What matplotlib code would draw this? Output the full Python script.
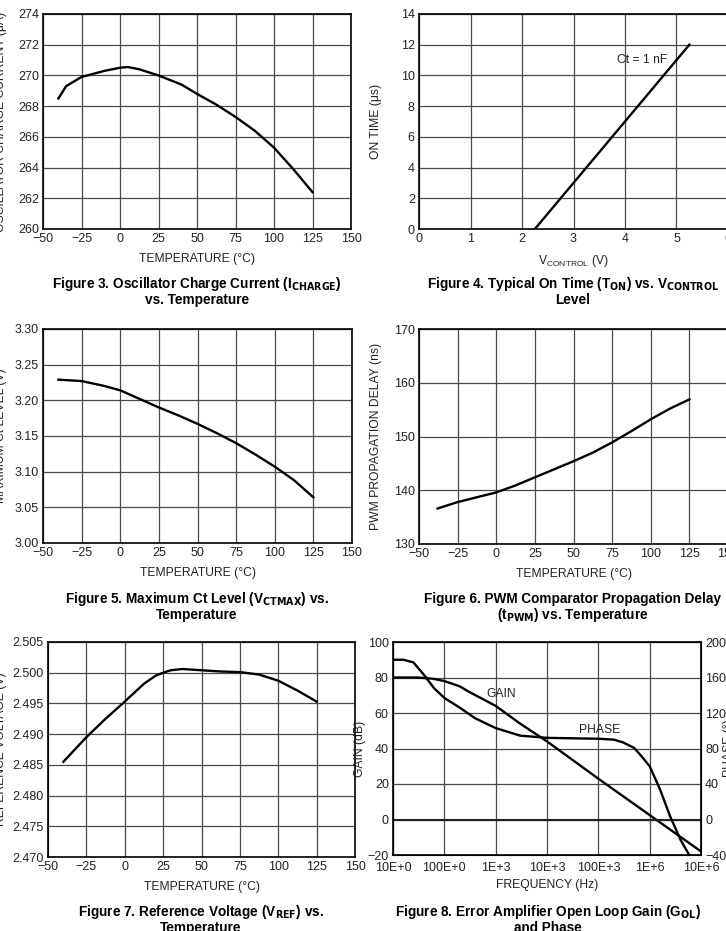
import matplotlib
matplotlib.use("Agg")
import matplotlib.pyplot as plt

plt.rcParams['font.family'] = ['Liberation Sans', 'DejaVu Sans']
plt.rcParams['mathtext.fontset'] = 'custom'
plt.rcParams['mathtext.rm'] = 'Liberation Sans'
plt.rcParams['mathtext.bf'] = 'Liberation Sans Narrow:bold'

# ---- data ----
temp3 = [-40, -35, -25, -10, 0, 5, 12.5, 25, 40, 50, 62.5, 75, 87.5, 100, 112.5, 125]
icharge = [268.5, 269.3, 269.9, 270.3, 270.5, 270.55, 270.4, 270.0, 269.4, 268.8,
           268.1, 267.3, 266.4, 265.3, 263.9, 262.4]

vcontrol = [2.25, 5.25]
ton = [0, 12]

temp5 = [-40, -25, -10, 0, 12.5, 25, 37.5, 50, 62.5, 75, 87.5, 100, 112.5, 125]
vctmax = [3.229, 3.227, 3.220, 3.214, 3.202, 3.190, 3.179, 3.167, 3.154, 3.140,
          3.124, 3.107, 3.088, 3.064]

temp6 = [-38, -25, -12.5, 0, 12.5, 25, 37.5, 50, 62.5, 75, 87.5, 100, 112.5, 125]
tpwm = [136.6, 137.8, 138.7, 139.6, 140.9, 142.4, 143.9, 145.4, 147.0, 148.9,
        151.0, 153.2, 155.2, 156.9]

temp7 = [-40, -25, -12.5, 0, 12.5, 20, 25, 30, 37.5, 50, 62.5, 75, 87.5, 100, 112.5, 125]
vref = [2.4855, 2.4895, 2.4925, 2.4953, 2.4982, 2.4995, 2.5000, 2.5004, 2.5006,
        2.5004, 2.5002, 2.5001, 2.4997, 2.4987, 2.4971, 2.4953]

gain_freq = [10, 30, 60, 100, 200, 300, 1e3, 3e3, 1e4, 1e5, 1e6, 1e7]
gain_db = [80, 80, 79.3, 78, 75, 72, 64, 54, 44, 23, 2.5, -18]
phase_freq = [10, 16, 25, 40, 63, 100, 200, 400, 1e3, 3e3, 1e4, 3e4, 1e5, 2e5,
              3e5, 5e5, 7e5, 1e6, 1.6e6, 2.5e6, 4e6, 5.9e6]
phase_deg = [180, 180, 177, 163, 148, 137, 126, 114, 103, 94.5, 92, 91.5, 91, 90,
             87, 80.6, 71, 60, 33.6, 3.6, -23, -40]

temp_ticks = [-50, -25, 0, 25, 50, 75, 100, 125, 150]
freq_ticks = [10, 100, 1e3, 1e4, 1e5, 1e6, 1e7]
freq_labels = ['10E+0', '100E+0', '1E+3', '10E+3', '100E+3', '1E+6', '10E+6']

W, H = 726, 931
fig = plt.figure(figsize=(W / 100, H / 100), dpi=100)
CAP = ['Liberation Sans Narrow', 'Liberation Sans', 'DejaVu Sans']
TXT = '#222222'


def panel(x0, y0, x1, y1):
    ax = fig.add_axes([x0 / W, 1 - y1 / H, (x1 - x0) / W, (y1 - y0) / H])
    ax.grid(True, color='#4a4a4a', lw=0.9)
    ax.set_axisbelow(True)
    ax.tick_params(length=0, labelsize=9, pad=3, colors=TXT)
    for s in ax.spines.values():
        s.set_linewidth(1.2)
    return ax


def labels(ax, x0, y0, x1, y1, xl, yl, ylx):
    ax.set_xlabel(xl, fontsize=8.7, color=TXT)
    ax.xaxis.set_label_coords(0.5, -(253 - 229) / 215)
    ax.set_ylabel(yl, fontsize=8.7, color=TXT)
    ax.yaxis.set_label_coords((ylx - x0) / (x1 - x0), 0.5)


def caption(cx, cy, l1, l2):
    fig.text(cx / W, 1 - cy / H, l1, ha='center', va='center', fontsize=9.8,
             fontweight='bold', family=CAP)
    fig.text(cx / W, 1 - (cy + 16) / H, l2, ha='center', va='center', fontsize=9.8,
             fontweight='bold', family=CAP)


# Figure 3
ax = panel(43, 14, 351, 229)
ax.plot(temp3, icharge, color='black', lw=1.7)
ax.set_xlim(-50, 150)
ax.set_ylim(260, 274)
ax.set_xticks(temp_ticks)
ax.set_yticks(range(260, 275, 2))
labels(ax, 43, 14, 351, 229, 'TEMPERATURE (°C)', 'OSCILLATOR CHARGE CURRENT (μA)', 7)
caption(197, 284, r'Figure 3. Oscillator Charge Current (I$_\mathbf{CHARGE}$)', 'vs. Temperature')

# Figure 4
ax = panel(419, 14, 728, 229)
ax.plot(vcontrol, ton, color='black', lw=1.7)
ax.set_xlim(0, 6)
ax.set_ylim(0, 14)
ax.set_xticks(range(0, 7))
ax.set_yticks(range(0, 15, 2))
ax.text(4.82, 11.0, 'Ct = 1 nF', ha='right', va='center', fontsize=8.7, color=TXT)
labels(ax, 419, 14, 728, 229, r'V$_{\mathrm{CONTROL}}$ (V)', 'ON TIME (μs)', 382)
caption(573, 284, r'Figure 4. Typical On Time (T$_\mathbf{ON}$) vs. V$_\mathbf{CONTROL}$', 'Level')

# Figure 5
ax = panel(43, 329, 352, 543)
ax.plot(temp5, vctmax, color='black', lw=1.7)
ax.set_xlim(-50, 150)
ax.set_ylim(3.00, 3.30)
ax.set_xticks(temp_ticks)
ax.set_yticks([3.00, 3.05, 3.10, 3.15, 3.20, 3.25, 3.30])
ax.set_yticklabels(['%.2f' % v for v in ax.get_yticks()])
labels(ax, 43, 329, 352, 543, 'TEMPERATURE (°C)', 'MAXIMUM Ct LEVEL (V)', 7)
caption(197, 599, r'Figure 5. Maximum Ct Level (V$_\mathbf{CTMAX}$) vs.', 'Temperature')

# Figure 6
ax = panel(419, 329, 728, 544)
ax.plot(temp6, tpwm, color='black', lw=1.7)
ax.set_xlim(-50, 150)
ax.set_ylim(130, 170)
ax.set_xticks(temp_ticks)
ax.set_yticks(range(130, 171, 10))
labels(ax, 419, 329, 728, 544, 'TEMPERATURE (°C)', 'PWM PROPAGATION DELAY (ns)', 382)
caption(573, 599, 'Figure 6. PWM Comparator Propagation Delay',
        r'(t$_\mathbf{PWM}$) vs. Temperature')

# Figure 7
ax = panel(48, 642, 355, 857)
ax.plot(temp7, vref, color='black', lw=1.7)
ax.set_xlim(-50, 150)
ax.set_ylim(2.470, 2.505)
ax.set_xticks(temp_ticks)
ax.set_yticks([2.470, 2.475, 2.480, 2.485, 2.490, 2.495, 2.500, 2.505])
ax.set_yticklabels(['%.3f' % v for v in ax.get_yticks()])
labels(ax, 48, 642, 355, 857, 'TEMPERATURE (°C)', 'REFERENCE VOLTAGE (V)', 7)
caption(201, 912, r'Figure 7. Reference Voltage (V$_\mathbf{REF}$) vs.', 'Temperature')

# Figure 8
ax = panel(393, 642, 701, 855)
ax.set_xscale('log')
ax.plot(gain_freq, gain_db, color='black', lw=1.7)
ax.axhline(0, color=TXT, lw=1.5)
ax.set_xlim(10, 1e7)
ax.set_ylim(-20, 100)
ax.set_xticks(freq_ticks)
ax.set_xticklabels(freq_labels)
ax.minorticks_off()
ax.tick_params(axis='x', pad=5)
ax.set_yticks(range(-20, 101, 20))
ax.text(1.3e3, 70.9, 'GAIN', ha='center', va='center', fontsize=8.7, color=TXT)
ax.text(1.07e5, 50.6, 'PHASE', ha='center', va='center', fontsize=8.7, color=TXT)
labels(ax, 393, 642, 701, 855, 'FREQUENCY (Hz)', 'GAIN (dB)', 366)
axp = ax.twinx()
axp.plot(phase_freq, phase_deg, color='black', lw=1.7)
axp.set_ylim(-40, 200)
axp.set_yticks(range(-40, 201, 40))
axp.tick_params(length=0, labelsize=9, pad=3, colors=TXT)
axp.set_ylabel('PHASE (°)', fontsize=8.7, color=TXT)
axp.yaxis.set_label_coords((723 - 393) / 308, 0.5)
caption(548, 912, r'Figure 8. Error Amplifier Open Loop Gain (G$_\mathbf{OL}$)', 'and Phase')

fig.savefig('out.png', dpi=100)
